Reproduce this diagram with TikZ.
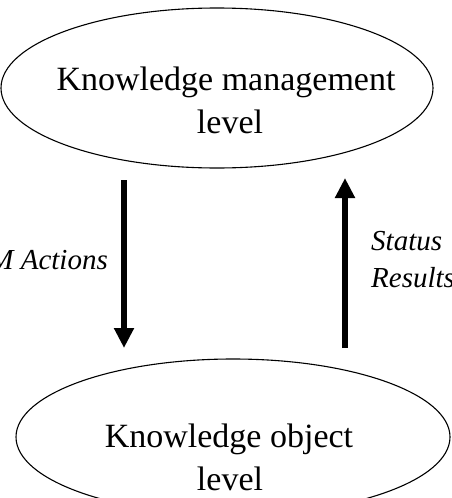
\documentclass[tikz,border=0pt]{standalone}
\usepackage{fontspec}
\setmainfont{Liberation Serif}
\usetikzlibrary{shapes.geometric,arrows.meta}
\begin{document}
\begin{tikzpicture}[x=1pt,y=1pt,
  lvl/.style={draw,ellipse,line width=1.1pt,inner sep=0pt},
  big/.style={font=\fontsize{34}{43}\selectfont,inner sep=0pt,anchor=base},
  lab/.style={font=\fontsize{29}{37}\selectfont\itshape,inner sep=0pt},
  flow/.style={line width=6pt,-{Triangle[width=19pt,length=20pt]}}]
\useasboundingbox (0,0) rectangle (451,-498);
\node[lvl,minimum width=432pt,minimum height=160pt] (km) at (217,-88) {};
\node[lvl,minimum width=434pt,minimum height=156pt] (ko) at (233,-437) {};
\node[big] (t1) at (226,-90) {Knowledge management};
\node[big] (t2) at (230,-133) {level};
\node[big] (t3) at (229,-447) {Knowledge object};
\node[big] (t4) at (230,-490) {level};
\coordinate (a1s) at (124,-180);
\coordinate (a1e) at (124,-348);
\coordinate (a2s) at (345,-348);
\coordinate (a2e) at (345,-178);
\draw[flow] (a1s) -- (a1e);
\draw[flow] (a2s) -- (a2e);
\node[lab,anchor=base east] (l1) at (108,-269) {M Actions};
\node[lab,anchor=base west] (l2) at (371,-250) {Status};
\node[lab,anchor=base west] (l3) at (371,-287) {Results};
\end{tikzpicture}
\end{document}
